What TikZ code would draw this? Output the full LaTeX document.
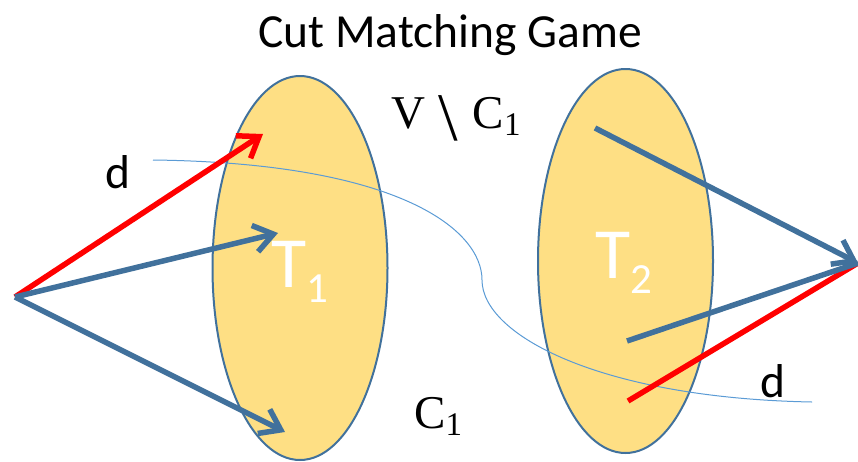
\documentclass[tikz,border=0pt]{standalone}
\usepackage{fontspec}
\setmainfont{Carlito}
\newfontfamily\serifm{Liberation Serif}
\usetikzlibrary{arrows.meta,shapes.geometric}
\definecolor{setfill}{HTML}{FEDF84}
\definecolor{setdraw}{HTML}{41719C}
\definecolor{arrblue}{HTML}{41719C}
\definecolor{cutblue}{HTML}{5B9BD5}
\tikzset{
  setell/.style={ellipse, fill=setfill, draw=setdraw, line width=2pt, minimum width=175pt, minimum height=384pt, inner sep=0pt},
  bluearr/.style={draw=arrblue, line width=5.5pt, -{Straight Barb[length=19pt,width=27pt]}},
  redarr/.style={draw=red, line width=5.5pt, -{Straight Barb[length=19pt,width=27pt]}},
  blueline/.style={draw=arrblue, line width=5.5pt},
  redline/.style={draw=red, line width=5.5pt},
  cutline/.style={draw=cutblue, line width=1pt},
  lbl/.style={font=\fontsize{47.5}{52}\selectfont, anchor=base, inner sep=0pt},
  mlbl/.style={font=\serifm\fontsize{47}{52}\selectfont, anchor=base west, inner sep=0pt},
  tlbl/.style={font=\fontsize{72}{80}\selectfont, text=white, anchor=base west, inner sep=0pt},
}
\newcommand{\subone}[1]{\raisebox{-7pt}{\fontsize{33}{36}\selectfont #1}}
\begin{document}
\begin{tikzpicture}[x=1pt,y=-1pt]
\useasboundingbox (0,0) rectangle (858,461);
% sets
\node[setell] (e1) at (300,268) {};
\node[setell] (e2) at (625.5,261) {};
% coordinates
\coordinate (s) at (15,297);
\coordinate (r1) at (263,134);
\coordinate (b1) at (278,233);
\coordinate (b2) at (285,432);
\coordinate (t) at (858,263);
\coordinate (u1) at (595,128);
\coordinate (u2) at (627,341);
\coordinate (u3) at (628,401);
\coordinate (c0) at (153,160);
\coordinate (c1) at (482,280);
\coordinate (c2) at (812,402);
% cut curve
\draw[cutline] (c0) .. controls (400,163) and (482,230) .. (c1)
  .. controls (482,335) and (600,398) .. (c2);
% arrows
\draw[redarr] (s) -- (r1);
\draw[bluearr] (s) -- (b1);
\draw[bluearr] (s) -- (b2);
\draw[redline] (u3) -- (t);
\draw[blueline] (u2) -- (t);
\draw[bluearr] (u1) -- (t);
% labels
\node[lbl] (title) at (450,47) {Cut Matching Game};
\node[mlbl] (vc) at (391,128) {V\hspace{13pt}\raisebox{-12pt}{\scalebox{1.5}[1.45]{\textbackslash}}\hspace{15pt}C\subone{1}};
\node[mlbl] (c1l) at (414,428) {C\subone{1}};
\node[lbl] (d1) at (118,188) {d};
\node[lbl] (d2) at (773,397) {d};
\node[tlbl] (t1) at (271,287) {T\raisebox{-15pt}{\fontsize{43}{48}\selectfont 1}};
\node[tlbl] (t2) at (595,278) {T\raisebox{-15pt}{\fontsize{43}{48}\selectfont 2}};
\end{tikzpicture}
\end{document}
